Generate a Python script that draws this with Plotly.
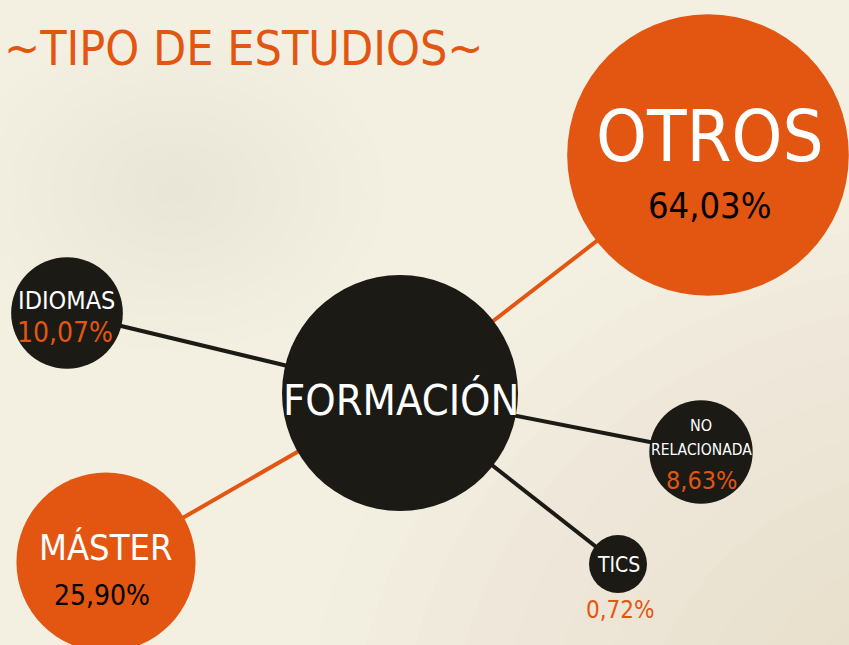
import math
import plotly.graph_objects as go

# ---------------- data ----------------
title_text = "~TIPO DE ESTUDIOS~"
center_label = "FORMACIÓN"
categories = ["OTROS", "MÁSTER", "IDIOMAS", "NO RELACIONADA", "TICS"]
percentages = [64.03, 25.90, 10.07, 8.63, 0.72]

# ---------------- layout / style ----------------
W, H = 849, 645
ORANGE = "#e35612"
DARK = "#1b1a14"
BG = "#f3f0e2"
SPOT = "#e2d8bf"
SHADE = "#dfd2b2"
FONT_L = "DejaVu Sans Condensed, Liberation Sans Narrow, sans-serif"
FONT_R = "DejaVu Sans Condensed, Liberation Sans Narrow, sans-serif"

center_pos = (400, 393)
center_diam = 236
node_pos = {
    "OTROS": (708, 155),
    "MÁSTER": (106, 562),
    "IDIOMAS": (67, 313),
    "NO RELACIONADA": (701, 452),
    "TICS": (618, 564),
}
node_color = {
    "OTROS": ORANGE, "MÁSTER": ORANGE,
    "IDIOMAS": DARK, "NO RELACIONADA": DARK, "TICS": DARK,
}
# label: (dx, dy, size, text) ; pct: (dx, dy, size, color)
label_style = {
    "OTROS": [(2, -19, 72, "OTROS")],
    "MÁSTER": [(-1, -15, 36, "MÁSTER")],
    "IDIOMAS": [(-1, -13, 25, "IDIOMAS")],
    "NO RELACIONADA": [(0, -27, 16, "NO"), (0, -2, 15.5, "RELACIONADA")],
    "TICS": [(0, 1, 21, "TICS")],
}
pct_style = {
    "OTROS": (1, 50, 36, "black"),
    "MÁSTER": (-4, 33, 28, "black"),
    "IDIOMAS": (-2, 19, 28, ORANGE),
    "NO RELACIONADA": (0, 28, 25, ORANGE),
    "TICS": (2, 46, 24, ORANGE),
}


def fmt_pct(v):
    return f"{v:.2f}".replace(".", ",") + "%"


def diam(v):
    return max(35.2 * math.sqrt(v), 58)


fig = go.Figure()

# connecting lines
for cat in categories:
    x0, y0 = center_pos
    x1, y1 = node_pos[cat]
    fig.add_trace(go.Scatter(
        x=[x0, x1], y=[y0, y1], mode="lines",
        line=dict(color=node_color[cat], width=4),
        hoverinfo="skip", showlegend=False))

# bubbles
fig.add_trace(go.Scatter(
    x=[node_pos[c][0] for c in categories],
    y=[node_pos[c][1] for c in categories],
    mode="markers",
    marker=dict(size=[diam(v) for v in percentages],
                color=[node_color[c] for c in categories],
                opacity=1, line=dict(width=0)),
    hoverinfo="skip", showlegend=False))
fig.add_trace(go.Scatter(
    x=[center_pos[0]], y=[center_pos[1]], mode="markers",
    marker=dict(size=center_diam, color=DARK, line=dict(width=0)),
    hoverinfo="skip", showlegend=False))

annotations = []
for cat, v in zip(categories, percentages):
    cx, cy = node_pos[cat]
    for dx, dy, sz, txt in label_style[cat]:
        annotations.append(dict(x=cx + dx, y=cy + dy, text=txt, showarrow=False,
                                font=dict(family=FONT_L, size=sz, color="white"),
                                xref="x", yref="y"))
    dx, dy, sz, col = pct_style[cat]
    annotations.append(dict(x=cx + dx, y=cy + dy, text=fmt_pct(v), showarrow=False,
                            font=dict(family=FONT_L, size=sz, color=col),
                            xref="x", yref="y"))

annotations.append(dict(x=center_pos[0] + 1, y=center_pos[1] + 7, text=center_label,
                        showarrow=False,
                        font=dict(family=FONT_L, size=43, color="white"),
                        xref="x", yref="y"))
annotations.append(dict(x=2, y=48, text=title_text, showarrow=False, xanchor="left",
                        font=dict(family=FONT_R, size=48, color=ORANGE),
                        xref="x", yref="y"))

# soft background shading (decorative, many faint layers)
shapes = []
n_spot = 10
for i in range(n_spot):
    r = 160 * (1 - i / n_spot)
    shapes.append(dict(type="circle", xref="x", yref="y", layer="below",
                       x0=175 - r * 1.3, x1=175 + r * 1.3, y0=190 - r, y1=190 + r,
                       fillcolor=SPOT, opacity=0.035, line=dict(width=0)))
n_corner = 14
for i in range(n_corner):
    r = 560 * (1 - i / n_corner)
    shapes.append(dict(type="circle", xref="x", yref="y", layer="below",
                       x0=980 - r * 1.2, x1=980 + r * 1.2, y0=740 - r, y1=740 + r,
                       fillcolor=SHADE, opacity=0.04, line=dict(width=0)))

fig.update_layout(
    width=W, height=H,
    margin=dict(l=0, r=0, t=0, b=0),
    paper_bgcolor=BG, plot_bgcolor=BG,
    xaxis=dict(range=[0, W], visible=False, fixedrange=True),
    yaxis=dict(range=[H, 0], visible=False, fixedrange=True),
    annotations=annotations,
    shapes=shapes,
    showlegend=False,
)

fig.write_html("out.html", config={"displayModeBar": False},
               post_script="document.body.style.margin='0';document.body.style.overflow='hidden';")
